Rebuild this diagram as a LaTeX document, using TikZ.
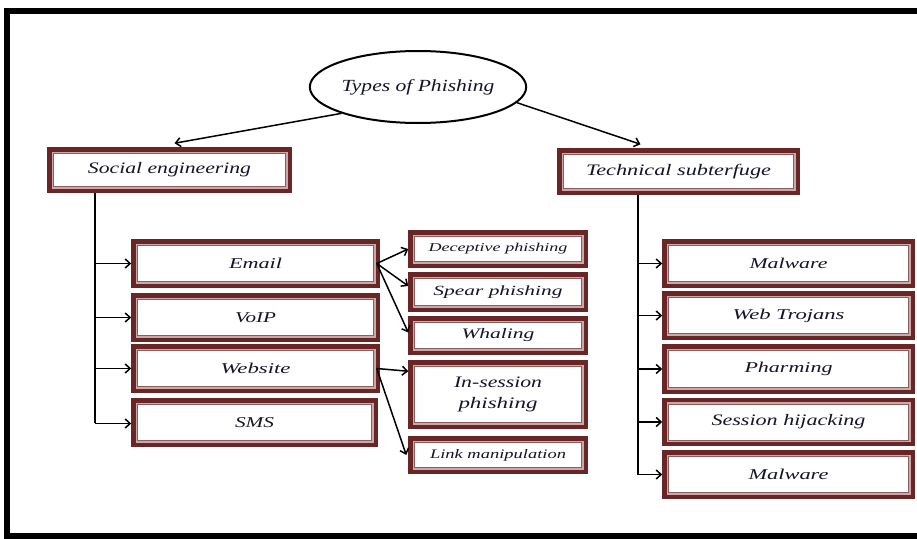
\documentclass[tikz,border=0pt]{standalone}
\usepackage{fontspec}
\setmainfont{Liberation Serif}
\usetikzlibrary{arrows.meta,shapes.geometric,calc}
\definecolor{boxred}{HTML}{6A2626}
\definecolor{boxlight}{HTML}{C9A9A9}
\definecolor{txt}{HTML}{14142A}
\newcommand{\lbl}[3]{{\fontsize{#2}{#2}\selectfont\itshape\color{txt}\resizebox{#1pt}{\height}{#3}}}
\begin{document}
\begin{tikzpicture}[x=1pt,y=-1pt,
  box/.style={draw=boxred, line width=4.5pt, fill=white, inner sep=0pt},
  leftw/.style={minimum width=244pt, minimum height=44pt},
  midw/.style={minimum width=175pt},
  rightw/.style={minimum width=248pt, minimum height=44pt},
  arr/.style={line width=1.5pt, -{Straight Barb[length=5pt,width=9pt]}},
  bus/.style={line width=2pt}
]
\useasboundingbox (0,0) rectangle (917,538);
\fill[white] (0,0) rectangle (917,538);
\draw[line width=6pt] (6.5,11) rectangle (935,536);

% root
\node[draw, ellipse, line width=2pt, minimum width=178pt, minimum height=72pt, inner sep=0pt]
  (tp) at (418,87) {\lbl{153}{17}{Types of Phishing}};

% level 1
\node[box, minimum width=240pt, minimum height=41pt] (se) at (169.5,170) {\lbl{163}{16}{Social engineering}};
\node[box, minimum width=238pt, minimum height=42pt] (ts) at (678.5,171.5) {\lbl{185}{16}{Technical subterfuge}};

% left column
\node[box, leftw] (email) at (255.5,263.5) {\lbl{53}{15}{Email}};
\node[box, leftw] (voip) at (255.5,317.5) {\lbl{41}{15}{VoIP}};
\node[box, leftw] (web) at (255.5,368.5) {\lbl{70}{15}{Website}};
\node[box, minimum width=242pt, minimum height=44pt] (sms) at (254.5,422.5) {\lbl{39}{15}{SMS}};

% middle column
\node[box, midw, minimum height=33pt] (dec) at (498,249) {\lbl{139}{12}{Deceptive phishing}};
\node[box, midw, minimum height=35pt] (spear) at (498,292) {\lbl{129}{14}{Spear phishing}};
\node[box, midw, minimum height=34pt] (whal) at (498,335.5) {\lbl{73}{14.5}{Whaling}};
\node[box, midw, minimum height=64pt, align=center] (ins) at (498,394.5)
  {\lbl{88}{16}{In-session}\\[9pt]\lbl{79}{16}{phishing}};
\node[box, midw, minimum height=33pt] (link) at (498,455) {\lbl{136}{13}{Link manipulation}};

% right column
\node[box, rightw] (mal1) at (788.5,263.5) {\lbl{78}{15}{Malware}};
\node[box, rightw] (troj) at (788.5,315.5) {\lbl{112}{15}{Web Trojans}};
\node[box, rightw, minimum height=45pt] (pharm) at (788.5,369) {\lbl{88}{15}{Pharming}};
\node[box, rightw] (sess) at (788.5,422) {\lbl{154}{16}{Session hijacking}};
\node[box, rightw] (mal2) at (788.5,474.5) {\lbl{80}{15}{Malware}};

% inner double lines of the boxes
\foreach \n in {se,ts,email,voip,web,sms,dec,spear,whal,ins,link,mal1,troj,pharm,sess,mal2}{
  \draw[boxlight,line width=1.5pt] ([xshift=5pt,yshift=-5pt]\n.north west) rectangle ([xshift=-5pt,yshift=5pt]\n.south east);
  \draw[boxred!75,line width=0.6pt] ([xshift=6.3pt,yshift=-6.3pt]\n.north west) rectangle ([xshift=-6.3pt,yshift=6.3pt]\n.south east);
}

% root arrows
\draw[arr] (tp.199) -- ([xshift=5pt,yshift=4pt]se.north);
\draw[arr] (tp.-9) -- ([xshift=-38pt,yshift=4pt]ts.north);

% left bus
\coordinate (lb) at ([xshift=48pt]se.south west);
\draw[bus] (lb) -- (lb |- sms.west);
\draw[arr] (lb |- email.west) -- (email.west);
\draw[arr] (lb |- voip.west) -- (voip.west);
\draw[arr] (lb |- web.west) -- (web.west);
\draw[arr] ([yshift=-1pt]lb |- sms.west) -- ([yshift=-1pt]sms.west);

% right bus
\coordinate (rb) at ([xshift=-40.5pt]ts.south);
\draw[bus] (rb) -- (rb |- mal2.west);
\draw[arr] (rb |- mal1.west) -- (mal1.west);
\draw[arr] (rb |- troj.west) -- (troj.west);
\draw[arr] (rb |- pharm.west) -- (pharm.west);
\draw[arr] (rb |- sess.west) -- (sess.west);
\draw[arr] (rb |- mal2.west) -- (mal2.west);

% email fan
\draw[arr] ([xshift=-3pt]email.east) -- (dec.west);
\draw[arr] ([xshift=-3pt]email.east) -- ([yshift=6pt]spear.west);
\draw[arr] ([xshift=-3pt]email.east) -- ([yshift=3pt]whal.west);

% website fan
\draw[arr] ([xshift=-3pt]web.east) -- ([yshift=-11pt]ins.north west);
\draw[arr] ([xshift=-3pt]web.east) -- ([xshift=-2pt]link.west);
\end{tikzpicture}
\end{document}
